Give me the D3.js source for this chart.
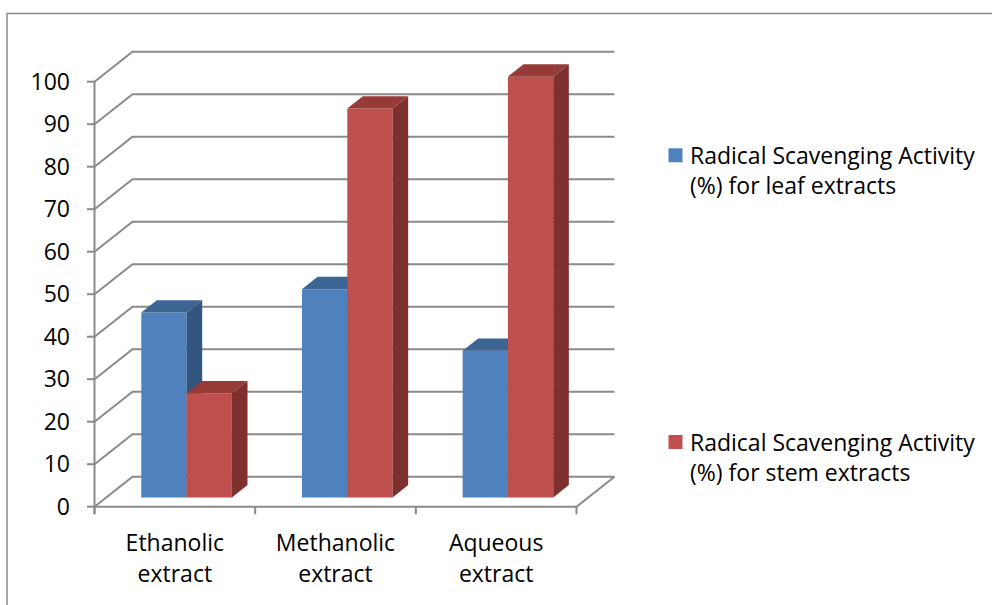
<!DOCTYPE html>
<html>
<head>
<meta charset="utf-8">
<script src="https://cdn.jsdelivr.net/npm/d3@7"></script>
<style>
  html, body { margin: 0; padding: 0; background: #fff; }
  svg { display: block; font-family: "Open Sans", Lato, sans-serif; }
</style>
</head>
<body>
<svg id="chart" width="992" height="605"></svg>
<script>
// Radical scavenging activity by extract type
const categories = ["Ethanolic extract", "Methanolic extract", "Aqueous extract"];
const categoryLines = [["Ethanolic", "extract"], ["Methanolic", "extract"], ["Aqueous", "extract"]];
const seriesNames = ["Radical Scavenging Activity (%) for leaf extracts",
                     "Radical Scavenging Activity (%) for stem extracts"];
const legendLines = [["Radical Scavenging Activity", "(%) for leaf extracts"],
                     ["Radical Scavenging Activity", "(%) for stem extracts"]];
const leafValues = [43.5, 49, 34.5];
const stemValues = [24.5, 91.5, 99];
const yTicks = [0, 10, 20, 30, 40, 50, 60, 70, 80, 90, 100];

const colors = [
  { front: "#4F81BD", top: "#3D6594", side: "#33557F" },
  { front: "#C0504D", top: "#963B38", side: "#7D302E" }
];

const fontSize = 23;
const svg = d3.select("#chart");

// outer frame
svg.append("rect")
  .attr("x", 7).attr("y", 13.5).attr("width", 1000).attr("height", 620)
  .attr("fill", "none").attr("stroke", "#8C8C8C").attr("stroke-width", 1.5);

// oblique projection: front-left-bottom origin and depth vector
const ox = 94.5, oy = 506.7;
const depth = { dx: 38, dy: -30 };
const plotW = 482, plotH = 425;

const x0 = d3.scaleBand().domain(categories).range([0, plotW]).padding(0);
const gapFrac = 0.218;
const x1 = d3.scaleBand().domain([0, 1])
  .range([x0.bandwidth() * gapFrac, x0.bandwidth() * (1 - gapFrac)]).padding(0);
const y = d3.scaleLinear().domain([0, 100]).range([0, plotH]);

// point in projected space: u along category axis, v value, t depth fraction
function P(u, v, t) {
  return [ox + u + depth.dx * t, oy - y(v) + depth.dy * t];
}

const gridColor = "#8A8A8A";
const g = svg.append("g");

// floor (front and right edges)
g.append("path")
  .attr("d", d3.line()([P(0, 0, 0), P(plotW, 0, 0), P(plotW, 0, 1)]))
  .attr("fill", "none").attr("stroke", gridColor).attr("stroke-width", 2);

// gridlines across the side wall and back wall
g.selectAll(".grid").data(yTicks).join("path")
  .attr("class", "grid")
  .attr("d", v => d3.line()([P(0, v, 0), P(0, v, 1), P(plotW, v, 1)]))
  .attr("fill", "none").attr("stroke", gridColor).attr("stroke-width", 2);

// value axis line and ticks
g.append("line")
  .attr("x1", ox).attr("x2", ox)
  .attr("y1", oy - y(100)).attr("y2", oy + 7.5)
  .attr("stroke", gridColor).attr("stroke-width", 2);
g.selectAll(".ytick").data(yTicks).join("line")
  .attr("x1", ox - 7.5).attr("x2", ox)
  .attr("y1", v => oy - y(v)).attr("y2", v => oy - y(v))
  .attr("stroke", gridColor).attr("stroke-width", 2);
g.selectAll(".ylab").data(yTicks).join("text")
  .attr("x", 70).attr("y", v => oy - y(v))
  .attr("dy", "0.34em")
  .attr("text-anchor", "end")
  .attr("font-size", fontSize).attr("fill", "#000")
  .text(v => v);

// category ticks
const catEdges = categories.map(c => x0(c)).concat([plotW]);
g.selectAll(".xtick").data(catEdges).join("line")
  .attr("x1", u => ox + u).attr("x2", u => ox + u)
  .attr("y1", oy).attr("y2", oy + 7.5)
  .attr("stroke", gridColor).attr("stroke-width", 2);

// category labels
const labels = g.selectAll(".xlab").data(categories).join("text")
  .attr("text-anchor", "middle").attr("font-size", fontSize).attr("fill", "#000");
labels.each(function(c, i) {
  const cx = ox + x0(c) + x0.bandwidth() / 2;
  const t = d3.select(this);
  categoryLines[i].forEach((ln, k) => {
    t.append("tspan").attr("x", cx).attr("y", 550.5 + k * 31.7).text(ln);
  });
});

// 3D bars
const t0 = 0.31, t1 = 0.72;
const seriesData = [leafValues, stemValues];
const bars = [];
categories.forEach((c, ci) => {
  seriesData.forEach((vals, si) => {
    bars.push({ c, si, v: vals[ci] });
  });
});
const line = d3.line();
const barG = g.selectAll(".bar").data(bars).join("g").attr("class", "bar");
barG.each(function(d) {
  const a = x0(d.c) + x1(d.si), b = a + x1.bandwidth();
  const sel = d3.select(this);
  const col = colors[d.si];
  // front face
  sel.append("path").attr("fill", col.front)
    .attr("d", line([P(a, 0, t0), P(b, 0, t0), P(b, d.v, t0), P(a, d.v, t0)]) + "Z");
  // top face
  sel.append("path").attr("fill", col.top)
    .attr("d", line([P(a, d.v, t0), P(b, d.v, t0), P(b, d.v, t1), P(a, d.v, t1)]) + "Z");
  // right side face
  sel.append("path").attr("fill", col.side)
    .attr("d", line([P(b, 0, t0), P(b, 0, t1), P(b, d.v, t1), P(b, d.v, t0)]) + "Z");
});

// legend
const legendY = [148.3, 435];
const leg = svg.selectAll(".legend").data(seriesNames).join("g").attr("class", "legend");
leg.append("rect")
  .attr("x", 668.5).attr("y", (d, i) => legendY[i])
  .attr("width", 14).attr("height", 14)
  .attr("fill", (d, i) => colors[i].front);
leg.append("text")
  .attr("font-size", fontSize).attr("fill", "#000")
  .each(function(d, i) {
    legendLines[i].forEach((ln, k) => {
      d3.select(this).append("tspan")
        .attr("x", 690).attr("y", legendY[i] + 15.5 + k * 30).text(ln);
    });
  });
</script>
</body>
</html>
